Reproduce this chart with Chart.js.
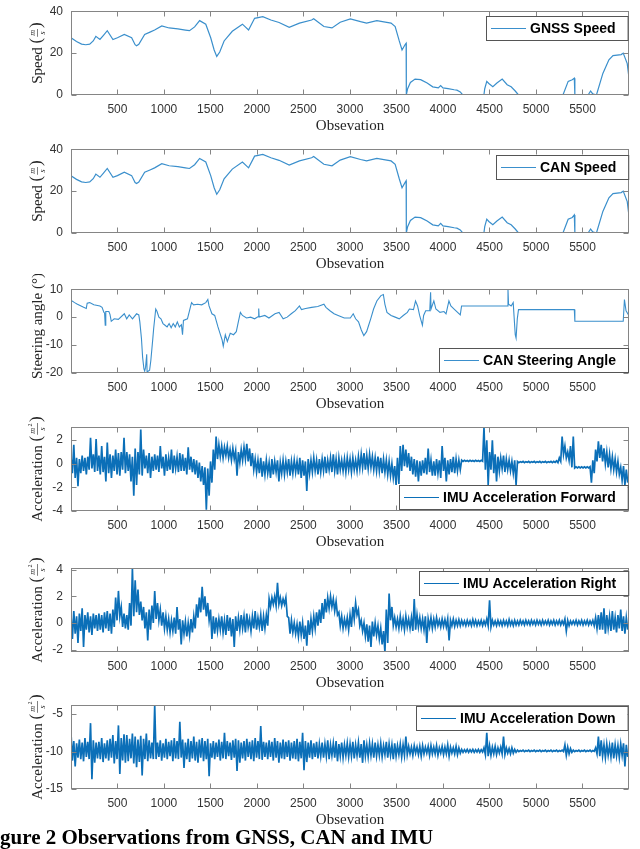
<!DOCTYPE html>
<html>
<head>
<meta charset="utf-8">
<script src="https://cdn.jsdelivr.net/npm/chart.js@4.4.1/dist/chart.umd.min.js"></script>
<style>
html, body { margin: 0; padding: 0; background: #fff; }
body { width: 640px; height: 849px; overflow: hidden; position: relative; }
.panel { position: absolute; left: 0; width: 640px; height: 139px; }
#caption { position: absolute; top: 827px; left: 0; white-space: nowrap; font: bold 21px "Liberation Serif", serif; line-height: 21px; color: #000; }
</style>
</head>
<body>
<div class="panel" style="top:-4px"><canvas id="c1" width="640" height="139"></canvas></div>
<div class="panel" style="top:134px"><canvas id="c2" width="640" height="139"></canvas></div>
<div class="panel" style="top:274px"><canvas id="c3" width="640" height="139"></canvas></div>
<div class="panel" style="top:412px"><canvas id="c4" width="640" height="139"></canvas></div>
<div class="panel" style="top:553px"><canvas id="c5" width="640" height="139"></canvas></div>
<div class="panel" style="top:690px"><canvas id="c6" width="640" height="139"></canvas></div>
<div id="caption">Figure 2 Observations from GNSS, CAN and IMU</div>
<script>
// x axis
const xTicks = [500, 1000, 1500, 2000, 2500, 3000, 3500, 4000, 4500, 5000, 5500];

// speed (m/s)
const speedObs = [1, 60, 115, 160, 202, 240, 268, 312, 350, 391, 452, 500, 574, 653, 690, 706, 730, 793, 850, 900,
  977, 1056, 1150, 1231, 1275, 1330, 1384, 1450, 1503, 1540, 1568, 1600, 1647, 1735, 1844, 1910, 1975, 2063, 2150, 2238,
  2347, 2457, 2588, 2610, 2720, 2807, 2895, 3004, 3114, 3179, 3289, 3380, 3442, 3486, 3530, 3560, 3595, 3604, 3606, 3620,
  3650, 3700, 3760, 3830, 3890, 3950, 3975, 4000, 4055, 4120, 4150, 4186, 4208, 4230, 4440, 4449, 4471, 4493, 4536, 4580,
  4637, 4690, 4733, 4777, 4812, 5290, 5346, 5390, 5412, 5418, 5560, 5587, 5610, 5650, 5719, 5784, 5828, 5916, 5938, 5981, 6000];
const gnssSpeed = [27.3, 25.5, 24.3, 24.0, 24.3, 25.8, 28.0, 26.5, 28.5, 30.7, 26.5, 27.3, 28.9, 27.3, 24.0, 23.5, 24.2, 28.9, 30.0, 31.0,
  33.0, 32.0, 31.6, 31.0, 30.7, 32.5, 35.5, 33.8, 27.3, 21.5, 18.4, 20.5, 25.8, 30.4, 33.8, 31.0, 36.6, 37.4, 35.8, 34.6,
  32.3, 34.3, 35.8, 36.4, 32.7, 32.0, 34.7, 36.3, 35.0, 34.3, 35.5, 34.8, 34.3, 32.7, 25.8, 21.5, 24.2, 24.7, 0, 3.0,
  6.0, 7.6, 7.3, 5.7, 3.9, 3.4, 4.5, 3.4, 3.0, 2.5, 2.3, 1.5, 0.3, 0, 0, 3.0, 6.5, 5.5, 4.0, 5.7,
  7.6, 4.9, 3.9, 1.9, 0, 0, 6.5, 7.3, 8.0, 0, 0, 1.9, 0.5, 0, 10.3, 16.8, 18.8, 19.3, 20.0, 15.0, 8.0];
const canSpeed = [27.3, 25.6, 24.4, 24.1, 24.4, 25.9, 28.1, 26.6, 28.6, 30.8, 26.6, 27.4, 29.0, 27.4, 24.1, 23.6, 24.3, 29.0, 30.1, 31.1,
  33.1, 32.1, 31.7, 31.1, 30.8, 32.6, 35.6, 33.9, 27.4, 21.6, 18.5, 20.6, 25.9, 30.5, 33.9, 31.1, 36.7, 37.5, 35.9, 34.7,
  32.4, 34.4, 35.9, 36.5, 32.8, 32.1, 34.8, 36.4, 35.1, 34.4, 35.6, 34.9, 34.4, 32.8, 25.9, 21.6, 24.3, 24.9, 0, 3.0,
  6.0, 7.6, 7.3, 5.7, 3.9, 3.4, 4.6, 3.4, 3.0, 2.5, 2.3, 1.5, 0.3, 0, 0, 3.0, 6.6, 5.5, 4.0, 5.7,
  7.6, 4.9, 3.9, 1.9, 0, 0, 6.6, 7.4, 8.6, 0, 0, 1.9, 0.5, 0, 10.3, 16.8, 18.8, 19.3, 20.0, 15.0, 8.0];

// steering angle (deg)
const steerObs = [1, 14, 40, 70, 137, 165, 175, 202, 246, 312, 335, 355, 362, 369, 375, 408, 420, 434, 465, 510,
  574, 600, 627, 662, 706, 730, 741, 758, 771, 785, 793, 803, 815, 819, 846, 859, 881, 890, 912, 925,
  946, 968, 990, 1012, 1034, 1056, 1078, 1100, 1122, 1144, 1166, 1188, 1200, 1210, 1253, 1284, 1297, 1319, 1362, 1406,
  1450, 1472, 1485, 1516, 1546, 1581, 1603, 1625, 1638, 1660, 1682, 1713, 1748, 1778, 1800, 1822, 1844, 1888, 1932, 1975,
  2015, 2019, 2024, 2085, 2129, 2194, 2238, 2282, 2325, 2369, 2413, 2457, 2479, 2523, 2588, 2654, 2720, 2742, 2785, 2829,
  2873, 2939, 3004, 3035, 3061, 3092, 3122, 3149, 3179, 3201, 3223, 3254, 3289, 3333, 3359, 3376, 3398, 3442, 3486, 3530,
  3573, 3617, 3639, 3683, 3705, 3727, 3749, 3779, 3792, 3814, 3858, 3867, 3872, 3902, 3924, 3968, 4011, 4033, 4064, 4085,
  4120, 4186, 4200, 4690, 4699, 4705, 4733, 4755, 4777, 4786, 4799, 4812, 5412, 5418, 5938, 5951, 5968, 6000];
const steerAngle = [5.8, 5.8, 5.2, 4.6, 3.5, 3.1, 5.0, 5.2, 4.4, 4.0, 3.5, 1.7, 1.5, -2.9, 2.0, 2.0, 1.0, -1.5, -0.6, -0.8,
  1.2, -0.6, 0.8, -0.6, 1.2, 0.8, -1.7, -7.5, -14.4, -18.5, -19.3, -17.9, -13.3, -19.6, -19.0, -15.6, -7.5, -4.0, 2.9, 2.1,
  0.0, -0.6, -2.3, -2.9, -3.5, -2.3, -3.8, -2.3, -3.5, -1.7, -3.5, -2.7, -6.3, -1.2, -0.6, 3.5, 5.2, 4.4, 4.6, 4.4,
  5.2, 6.3, 4.0, 1.2, 0.6, -3.5, -5.8, -8.1, -10.4, -6.3, -8.7, -5.8, -6.3, -5.2, -1.7, 1.7, 0.6, -0.3, 0.0, -0.6,
  0.2, 3.1, 0.0, 0.6, -0.3, 1.2, 1.7, -0.6, 0.0, 1.2, 2.3, 4.0, 2.7, 3.1, 3.5, 3.8, 4.6, 3.5, 2.3, 1.2,
  0.6, -0.3, -0.3, 1.2, -0.6, -1.7, -4.6, -6.6, -5.2, -2.9, -0.6, 2.9, 5.8, 7.7, 8.1, 4.6, 1.7, 0.6, 0.0, -0.6,
  0.6, 1.7, 2.9, 2.7, 5.8, 4.0, 0.6, -2.9, 0.6, 2.3, 2.3, 8.9, 2.9, 5.8, 2.9, 1.7, 2.0, 1.2, 5.8, 4.0,
  2.9, 0.8, 4.0, 4.0, 10.0, 4.6, 4.0, 5.2, -6.3, -7.5, -0.6, 2.7, 2.7, -1.5, -1.5, 6.3, 2.3, 0.5];

// IMU (m/s^2): upper / lower swing of the trace in each 30-sample slot
const imuStart = 1, imuSlot = 30;
const fwdHi = [0.6, 1.6, 0.5, 0.4, 0.7, 0.5, 0.6, 2.2, 0.8, 2.1, 0.7, 1.5, 0.6, 1.8, 0.8, 0.7, 1.2, 0.9, 1.0, 2.2,
  1.0, 0.8, 0.6, 1.3, 1.0, 2.9, 1.2, 0.7, 0.9, 0.6, 0.8, 0.7, 1.5, 0.6, 0.8, 0.5, 1.2, 0.7, 0.6, 0.9,
  0.8, 0.5, 1.4, 0.6, 0.4, 0.3, 0.1, -0.2, -0.3, -0.4, 0.2, 1.2, 2.3, 1.6, 1.5, 1.4, 1.5, 1.2, 1.3, 1.1,
  1.0, 1.2, 1.4, 1.7, 1.3, 0.9, 0.4, 0.3, 0.5, 0.2, 0.3, 0.1, 0.4, 0.2, 0.3, 0.1, 0.3, 0.2, 0.4, 0.2,
  0.3, 0.2, 0.5, 0.3, 0.2, 0.4, 0.3, 0.5, 0.3, 0.4, 0.4, 0.6, 0.3, 0.5, 0.8, 0.4, 0.5, 0.3, 0.4, 0.5,
  0.4, 0.5, 0.3, 0.6, 0.8, 0.9, 0.7, 0.8, 0.6, 0.5, 0.6, 0.5, 0.4, 0.3, 0.2, 0.0, -0.2, 0.5, 1.5, 1.6,
  1.2, 0.9, 0.6, 0.4, 0.3, 0.2, 0.3, 0.5, 1.3, 0.3, 0.2, 0.4, 0.3, 1.5, 0.5, 0.3, 0.4, 0.6, 0.4, 0.3,
  0.3, 0.3, 0.28, 0.3, 0.28, 0.3, 0.28, 0.3, 3.1, 2.0, 1.0, 2.0, 0.8, 0.6, 0.5, 0.7, 0.4, 0.3, 0.2, 0.3,
  0.2, 0.18, 0.2, 0.18, 0.2, 0.18, 0.2, 0.18, 0.2, 0.18, 0.2, 0.18, 0.2, 0.2, 0.25, 0.5, 2.3, 1.5, 1.0, 1.5,
  2.3, -0.25, -0.25, -0.25, -0.25, -0.25, -0.25, 0.3, 1.2, 1.9, 1.6, 1.3, 1.0, 0.8, 0.6, 0.4, 0.2, -0.3, -0.2, -0.5];
const fwdLo = [-0.8, -1.2, -1.9, -0.8, -0.6, -0.9, -0.5, -0.4, -0.7, -0.6, -0.9, -0.7, -1.5, -0.8, -1.2, -0.6, -0.9, -1.0, -0.5, -0.8,
  -0.6, -1.5, -2.7, -1.8, -0.9, -1.0, -0.4, -0.8, -1.2, -0.6, -0.5, -0.7, -0.4, -1.0, -0.6, -0.5, -0.8, -0.4, -0.7, -0.6,
  -0.6, -0.9, -0.5, -0.7, -0.9, -1.2, -1.5, -1.8, -3.9, -2.7, -1.6, -0.5, 0.4, 0.6, 0.5, 0.7, 0.5, 0.3, 0.4, -1.0,
  0.1, 0.3, 0.4, 0.2, -0.2, -0.5, -0.7, -0.8, -1.1, -0.9, -0.8, -1.2, -0.9, -0.7, -1.5, -0.8, -0.9, -0.7, -1.0, -0.8,
  -0.7, -0.9, -1.2, -1.0, -2.3, -0.8, -0.7, -0.6, -0.9, -0.7, -0.6, -0.8, -0.5, -0.7, -0.6, -0.9, -0.5, -0.6, -0.7, -0.5,
  -0.7, -0.5, -0.6, -0.4, -0.3, -0.5, -0.4, -0.3, -0.5, -0.6, -0.6, -0.8, -0.7, -0.9, -1.0, -1.2, -1.8, -1.7, -0.6, -0.2,
  -0.3, -0.6, -0.9, -1.1, -1.5, -1.0, -0.8, -0.9, -0.7, -1.0, -1.0, -0.8, -1.2, -0.6, -1.5, -0.9, -0.7, -0.8, -0.6, -0.5,
  0.2, 0.22, 0.2, 0.22, 0.2, 0.22, 0.2, 0.22, -0.5, -1.8, -0.5, -0.8, -1.5, -0.6, -0.4, -0.7, -0.5, -0.6, -0.8, -1.8,
  0.1, 0.12, 0.1, 0.12, 0.1, 0.12, 0.1, 0.12, 0.1, 0.12, 0.1, 0.12, 0.1, 0.12, 0.1, 0.2, 0.8, 0.5, 0.3, -0.3,
  -0.35, -0.35, -0.35, -0.35, -0.35, -0.35, -1.6, -0.8, 0.2, 0.5, 0.2, 0.0, -0.3, -0.4, -0.5, -0.7, -0.9, -1.4, -1.8, -1.6];
const rightHi = [0.6, 0.9, 0.5, 0.7, 1.1, 0.6, 0.8, 0.5, 0.7, 0.6, 0.7, 0.6, 0.8, 0.9, 0.7, 1.0, 1.9, 2.4, 1.2, 0.7,
  0.6, 1.5, 4.1, 3.2, 2.5, 1.6, 1.2, 0.8, 1.0, 1.3, 2.4, 1.5, 1.0, 0.8, 0.5, 0.3, 0.2, 0.4, 1.2, 0.3,
  0.2, 0.1, 0.0, 0.3, 0.5, 1.4, 1.9, 2.7, 2.0, 1.5, 1.0, 0.5, 0.4, 0.3, 0.5, 0.2, 0.6, 0.4, 0.3, 0.5,
  0.4, 0.6, 0.5, 0.7, 0.3, 0.5, 0.9, 0.4, 0.6, 0.5, 0.6, 1.8, 1.9, 2.0, 3.0, 1.9, 1.8, 1.9, 0.4, 0.2,
  0.0, -0.1, 0.1, 0.0, -0.2, 0.2, 0.3, 0.5, 0.8, 1.0, 1.5, 1.8, 1.9, 2.0, 1.8, 1.6, 0.8, 0.5, 0.3, 0.4,
  0.6, 1.2, 1.5, 1.0, 0.2, 0.0, -0.1, -0.2, 0.1, 0.0, -0.2, -0.4, -0.6, 1.0, 2.2, 1.2, 0.4, 0.3, 0.5, 0.3,
  0.5, 0.3, 0.4, 1.8, 0.6, 0.4, 0.3, 0.5, 0.3, 0.4, 0.3, 0.4, 0.2, 0.3, 0.25, 0.3, 0.2, 0.3, 0.2, 0.25,
  0.2, 0.15, 0.2, 0.15, 0.25, 0.2, 0.15, 0.2, 0.15, 0.3, 1.7, 0.2, 0.15, 0.2, 0.15, 0.2, 0.15, 0.25, 0.15, 0.2,
  0.15, 0.2, 0.15, 0.2, 0.15, 0.2, 0.15, 0.2, 0.15, 0.2, 0.15, 0.2, 0.15, 0.2, 0.15, 0.2, 0.15, 0.3, 0.2, 0.15,
  0.15, 0.2, 0.15, 0.2, 0.15, 0.2, 0.15, 0.2, 0.4, 0.6, 0.8, 1.1, 0.6, 0.5, 0.9, 0.4, 0.6, 1.0, 0.5, 0.4];
const rightLo = [-1.2, -0.8, -1.5, -0.6, -1.8, -0.5, -0.7, -0.9, -0.4, -0.6, -0.5, -0.7, -0.4, -0.6, -0.8, -0.3, 0.2, 0.5, -0.3, -0.4,
  -0.5, -0.2, 0.5, 0.8, 0.6, 0.2, -0.4, -1.3, -0.5, 0.0, 0.3, 0.2, -0.2, -0.4, -0.5, -0.7, -0.6, -0.8, -0.5, -1.6,
  -0.8, -1.0, -0.9, -0.7, -0.4, 0.4, 0.8, 1.0, 0.5, 0.2, -1.2, -0.8, -0.6, -0.5, -0.7, -0.9, -0.6, -1.0, -1.8, -0.6,
  -0.5, -0.4, -0.7, -0.3, -0.6, -0.4, -0.5, -0.3, -0.6, -0.4, -0.2, 1.2, 1.4, 1.3, 1.4, 1.3, 1.4, 0.5, -0.8, -0.7,
  -0.8, -1.0, -0.9, -1.2, -1.7, -0.9, -0.6, -0.4, -0.2, 0.0, 0.3, 0.8, 1.1, 1.2, 0.9, 0.6, -0.2, -0.4, -0.3, -0.5,
  -0.3, 0.3, 0.6, -0.2, -0.6, -1.0, -1.4, -1.8, -1.0, -0.9, -1.2, -1.6, -2.2, -1.5, 0.2, -0.2, -0.3, -0.4, -0.3, -0.5,
  -0.3, -0.4, -0.6, -0.5, -0.3, -0.4, -0.5, -1.5, -0.3, -0.4, -0.3, -0.2, -0.3, -0.25, -0.3, -1.3, -0.2, -0.25, -0.2, -0.2,
  -0.15, -0.2, -0.15, -0.2, -0.15, -0.2, -0.15, -0.2, -0.15, -0.2, -0.3, -0.15, -0.2, -0.15, -0.2, -0.15, -0.2, -0.15, -0.2, -0.15,
  -0.15, -0.1, -0.15, -0.1, -0.15, -0.1, -0.15, -0.1, -0.15, -0.1, -0.1, -0.15, -0.1, -0.15, -0.1, -0.15, -0.1, -0.6, -0.2, -0.1,
  -0.1, -0.15, -0.1, -0.15, -0.1, -0.15, -0.1, -0.2, -0.4, -0.5, -0.5, -0.8, -0.4, -0.6, -0.5, -0.7, -0.4, -0.6, -0.8, -0.5];
const downHi = [-7.5, -8.6, -8.9, -8.4, -8.8, -8.2, -8.7, -6.2, -8.5, -8.8, -8.7, -8.2, -8.9, -8.5, -8.3, -7.8, -8.6, -6.5, -8.2, -7.7,
  -7.8, -8.3, -7.6, -8.0, -8.4, -7.9, -8.3, -7.6, -8.5, -8.8, -3.8, -8.8, -8.5, -8.9, -8.3, -8.7, -8.5, -8.2, -8.6, -6.0,
  -8.4, -8.8, -8.3, -8.6, -8.0, -8.7, -8.4, -8.2, -8.6, -8.3, -8.9, -8.6, -8.8, -8.4, -8.7, -7.5, -8.6, -8.8, -8.5, -8.3,
  -8.5, -8.8, -8.6, -8.3, -8.7, -8.5, -8.2, -8.6, -6.6, -8.7, -8.8, -8.5, -8.7, -8.2, -8.6, -8.8, -8.4, -8.7, -8.5, -8.8,
  -8.6, -8.3, -8.7, -7.5, -8.6, -8.8, -8.5, -8.9, -8.7, -9.0, -8.8, -9.0, -8.5, -9.1, -8.9, -8.6, -9.0, -8.8, -9.1, -8.9,
  -9.0, -8.7, -9.1, -8.8, -9.0, -8.5, -9.1, -8.9, -9.0, -8.8, -9.1, -8.9, -9.2, -8.7, -9.0, -9.1, -8.9, -9.2, -9.0, -9.1,
  -8.0, -9.3, -9.4, -9.2, -9.4, -9.3, -9.2, -9.4, -9.3, -9.2, -9.4, -9.2, -9.5, -9.3, -9.4, -9.1, -9.4, -9.5, -9.3, -9.5,
  -9.7, -9.75, -9.7, -9.75, -9.7, -9.75, -9.7, -9.75, -9.5, -7.5, -9.2, -9.4, -9.3, -9.5, -9.4, -8.0, -9.5, -9.6, -9.5, -9.7,
  -9.8, -9.85, -9.8, -9.85, -9.8, -9.85, -9.8, -9.85, -9.8, -9.85, -9.8, -9.85, -9.8, -9.85, -9.8, -9.85, -9.8, -9.1, -9.4, -9.6,
  -9.8, -9.85, -9.8, -9.85, -9.8, -9.85, -9.8, -9.85, -9.5, -8.0, -8.5, -9.1, -9.0, -9.2, -8.8, -9.1, -9.2, -9.0, -8.9, -9.1];
const downLo = [-11.2, -12.0, -10.8, -11.0, -11.3, -10.7, -11.0, -13.7, -11.5, -10.9, -11.0, -11.4, -10.9, -11.2, -10.8, -11.6, -11.0, -13.0, -11.2, -11.5,
  -11.3, -10.9, -11.6, -12.1, -11.4, -13.2, -11.0, -11.3, -10.9, -11.0, -11.0, -10.7, -11.2, -10.8, -11.0, -10.6, -11.3, -10.9, -11.0, -10.8,
  -12.2, -11.0, -11.4, -10.9, -11.2, -11.5, -10.8, -11.3, -11.0, -13.3, -10.8, -11.0, -10.7, -11.2, -10.9, -11.0, -10.6, -11.1, -10.8, -12.6,
  -11.5, -10.9, -11.2, -10.7, -11.0, -11.3, -10.8, -11.0, -11.1, -10.7, -11.0, -10.7, -11.2, -10.8, -11.5, -10.9, -11.0, -10.7, -11.2, -10.9,
  -11.0, -11.3, -10.9, -12.5, -11.4, -10.8, -11.0, -10.7, -10.9, -10.6, -10.8, -10.6, -11.0, -10.5, -10.8, -11.3, -10.6, -10.8, -10.5, -10.7,
  -10.6, -10.9, -10.5, -10.8, -11.5, -10.6, -10.7, -10.5, -10.8, -10.6, -10.5, -10.7, -10.4, -10.8, -10.5, -11.0, -10.6, -10.4, -10.7, -10.5,
  -10.4, -10.3, -10.5, -10.2, -10.4, -10.6, -10.3, -10.2, -10.5, -10.3, -10.3, -10.5, -10.2, -10.4, -10.3, -10.6, -10.2, -10.3, -10.4, -10.2,
  -10.1, -10.05, -10.1, -10.05, -10.1, -10.05, -10.1, -10.05, -10.4, -10.6, -10.5, -10.3, -10.4, -10.2, -10.3, -10.4, -10.2, -10.3, -10.2, -10.1,
  -10.0, -9.95, -10.0, -9.95, -10.0, -9.95, -10.0, -9.95, -10.0, -9.95, -10.0, -9.95, -10.0, -9.95, -10.0, -9.95, -10.0, -10.5, -10.3, -10.1,
  -10.0, -9.95, -10.0, -9.95, -10.0, -9.95, -10.0, -9.95, -10.3, -10.6, -10.6, -10.8, -10.5, -10.7, -10.9, -10.6, -10.8, -10.5, -12.0, -10.7];

const lineBlue = '#3a8fcc';
const imuBlue = '#0b6fb8';

function pairs(xs, ys) {
    return xs.map((x, i) => ({ x: x, y: ys[i] }));
}

// each slot gives its high then its low sample
function swing(hi, lo) {
    const pts = [];
    hi.forEach((h, i) => {
        pts.push({ x: imuStart + imuSlot * i, y: h });
        pts.push({ x: imuStart + imuSlot * i + imuSlot / 2, y: lo[i] });
    });
    return pts;
}

function drawYTitle(ctx, cx, cy, t) {
    ctx.save();
    ctx.translate(cx, cy);
    ctx.rotate(-Math.PI / 2);
    ctx.fillStyle = '#262626';
    ctx.strokeStyle = '#262626';
    ctx.textBaseline = 'middle';
    ctx.textAlign = 'left';
    const wordFont = '15px "Liberation Serif"';
    const parenFont = '17px "Liberation Serif"';
    const fracFont = 'italic 8px "Liberation Serif"';
    ctx.font = wordFont;
    const wordW = ctx.measureText(t.word + ' ').width;
    if (!t.num) {
        const full = t.word + ' (' + t.plain + ')';
        const w = ctx.measureText(full).width;
        ctx.fillText(full, -w / 2, 0);
        ctx.restore();
        return;
    }
    ctx.font = fracFont;
    const numW = ctx.measureText(t.num).width + (t.sup ? 4 : 0);
    const denW = ctx.measureText(t.den).width;
    const fracW = Math.max(numW, denW) + 2;
    ctx.font = parenFont;
    const pW = ctx.measureText('(').width;
    const total = wordW + pW * 2 + fracW + 2;
    let x0 = -total / 2;
    ctx.font = wordFont;
    ctx.fillText(t.word, x0, 0);
    x0 += wordW;
    ctx.font = parenFont;
    ctx.fillText('(', x0, -1);
    x0 += pW + 1;
    ctx.lineWidth = 0.6;
    ctx.beginPath();
    ctx.moveTo(x0, -0.5);
    ctx.lineTo(x0 + fracW, -0.5);
    ctx.stroke();
    ctx.font = fracFont;
    ctx.textAlign = 'center';
    const mid = x0 + fracW / 2;
    ctx.fillText(t.num, mid - (t.sup ? 2 : 0), -5);
    if (t.sup) {
        ctx.font = '6px "Liberation Serif"';
        ctx.fillText(t.sup, mid + numW / 2 - 1, -8);
        ctx.font = fracFont;
    }
    ctx.fillText(t.den, mid, 4.5);
    ctx.textAlign = 'left';
    x0 += fracW + 1;
    ctx.font = parenFont;
    ctx.fillText(')', x0, -1);
    ctx.restore();
}

function drawLegend(ctx, a, L) {
    ctx.save();
    ctx.font = 'bold 14px "Liberation Sans"';
    const tw = ctx.measureText(L.text).width;
    const w = tw + 56, h = 24;
    const left = Math.round(a.right - 1 - w);
    const top = Math.round(a.top + L.top);
    ctx.fillStyle = '#fff';
    ctx.fillRect(left, top, w, h);
    ctx.strokeStyle = '#555';
    ctx.lineWidth = 1;
    ctx.strokeRect(left + 0.5, top + 0.5, w, h);
    ctx.strokeStyle = L.color;
    ctx.lineWidth = 1.2;
    ctx.beginPath();
    ctx.moveTo(left + 5, top + h / 2 + 0.5);
    ctx.lineTo(left + 40, top + h / 2 + 0.5);
    ctx.stroke();
    ctx.fillStyle = '#000';
    ctx.textBaseline = 'middle';
    ctx.fillText(L.text, left + 44, top + h / 2 + 1);
    ctx.restore();
}

const matlabBox = {
    id: 'matlabBox',
    afterDraw(chart, args, opts) {
        const ctx = chart.ctx;
        const a = chart.chartArea;
        const x = chart.scales.x, y = chart.scales.y;
        ctx.save();
        ctx.strokeStyle = '#858585';
        ctx.lineWidth = 1;
        const l = Math.round(a.left) + 0.5, r = Math.round(a.right) - 0.5;
        const t = Math.round(a.top) + 0.5, b = Math.round(a.bottom) - 0.5;
        ctx.strokeRect(l, t, r - l, b - t);
        ctx.beginPath();
        x.ticks.forEach(tk => {
            const px = Math.round(x.getPixelForValue(tk.value)) + 0.5;
            ctx.moveTo(px, b); ctx.lineTo(px, b - 5);
            ctx.moveTo(px, t); ctx.lineTo(px, t + 5);
        });
        y.ticks.forEach(tk => {
            const py = Math.round(y.getPixelForValue(tk.value)) + 0.5;
            ctx.moveTo(l, py); ctx.lineTo(l + 5, py);
            ctx.moveTo(r, py); ctx.lineTo(r - 5, py);
        });
        ctx.stroke();
        ctx.fillStyle = '#262626';
        ctx.font = '15px "Liberation Serif"';
        ctx.textAlign = 'center';
        ctx.textBaseline = 'middle';
        ctx.fillText('Obsevation', (a.left + a.right) / 2, a.bottom + 31);
        ctx.restore();
        drawYTitle(ctx, 38, (a.top + a.bottom) / 2 + opts.titleShift, opts.yTitle);
        drawLegend(ctx, a, opts.legend);
    }
};

function makeChart(id, points, color, width, yMin, yMax, yTicks, yTitle, legend, titleShift) {
    const ctx = document.getElementById(id).getContext('2d');
    return new Chart(ctx, {
        type: 'line',
        data: {
            datasets: [{
                label: legend.text,
                data: points,
                borderColor: color,
                borderWidth: width,
                pointRadius: 0,
                tension: 0,
                fill: false
            }]
        },
        options: {
            responsive: false,
            animation: false,
            events: [],
            layout: { padding: { top: 13, left: 0, right: 11, bottom: 0 } },
            scales: {
                x: {
                    type: 'linear',
                    min: 1,
                    max: 6000,
                    afterBuildTicks: s => { s.ticks = xTicks.map(v => ({ value: v })); },
                    afterFit: s => { s.height = 40; },
                    grid: { display: false, drawTicks: false },
                    border: { display: false },
                    ticks: { padding: 7, color: '#333', font: { family: 'Liberation Sans', size: 12 }, maxRotation: 0, autoSkip: false,
                        callback: v => String(v) }
                },
                y: {
                    min: yMin,
                    max: yMax,
                    afterBuildTicks: s => { s.ticks = yTicks.map(v => ({ value: v })); },
                    afterFit: s => { s.width = 71; },
                    grid: { display: false, drawTicks: false },
                    border: { display: false },
                    ticks: { padding: 8, color: '#333', font: { family: 'Liberation Sans', size: 12 }, callback: v => String(v) }
                }
            },
            plugins: {
                legend: { display: false },
                tooltip: { enabled: false },
                matlabBox: { yTitle: yTitle, legend: legend, titleShift: titleShift || 0 }
            }
        },
        plugins: [matlabBox]
    });
}

makeChart('c1', pairs(speedObs, gnssSpeed), lineBlue, 1.2, 0, 40, [0, 20, 40],
    { word: 'Speed', num: 'm', den: 's' }, { text: 'GNSS Speed', top: 5, color: lineBlue });
makeChart('c2', pairs(speedObs, canSpeed), lineBlue, 1.2, 0, 40, [0, 20, 40],
    { word: 'Speed', num: 'm', den: 's' }, { text: 'CAN Speed', top: 5.5, color: lineBlue });
makeChart('c3', pairs(steerObs, steerAngle), lineBlue, 1.1, -20, 10, [-20, -10, 0, 10],
    { word: 'Steering angle', plain: '°' }, { text: 'CAN Steering Angle', top: 59, color: lineBlue }, -5);
makeChart('c4', swing(fwdHi, fwdLo), imuBlue, 1.7, -4, 3.1, [-4, -2, 0, 2],
    { word: 'Acceleration', num: 'm', sup: '2', den: 's' }, { text: 'IMU Acceleration Forward', top: 58, color: imuBlue });
makeChart('c5', swing(rightHi, rightLo), imuBlue, 1.7, -2.17, 4.1, [-2, 0, 2, 4],
    { word: 'Acceleration', num: 'm', sup: '2', den: 's' }, { text: 'IMU Acceleration Right', top: 2.5, color: imuBlue });
makeChart('c6', swing(downHi, downLo), imuBlue, 1.7, -15, -3.8, [-15, -10, -5],
    { word: 'Acceleration', num: 'm', sup: '2', den: 's' }, { text: 'IMU Acceleration Down', top: 1, color: imuBlue });

// caption starts a little left of the page, as in the scan
(function () {
    const cap = document.getElementById('caption');
    const c = document.createElement('canvas').getContext('2d');
    c.font = 'bold 21px "Liberation Serif"';
    cap.style.left = (-c.measureText('Fi').width) + 'px';
})();
</script>
</body>
</html>
